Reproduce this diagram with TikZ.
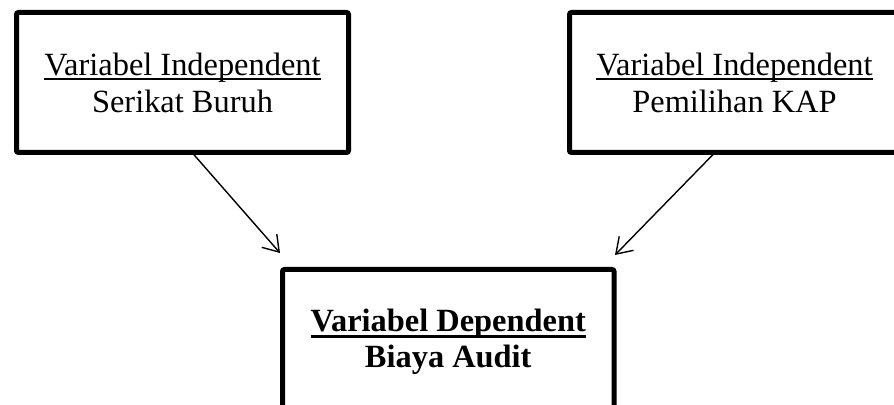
\documentclass[tikz,border=0pt]{standalone}
\usepackage{fontspec}
\setmainfont{Liberation Serif}
\usetikzlibrary{arrows.meta,positioning}
\newcommand{\garisbawah}[3]{\setbox0\hbox{#3}\usebox0\llap{\rule[#1]{\wd0}{#2}}}
\tikzset{kotak/.style={draw,line width=2.5pt,rounded corners=1pt,outer sep=0pt,align=center,minimum height=70pt,font=\fontsize{16.2}{18.5}\selectfont},panah/.style={-{Straight Barb[length=7.5pt,width=10pt]},line width=0.7pt}}

\begin{document}
\begin{tikzpicture}[x=0.5pt,y=-0.5pt]
\path[use as bounding box,clip] (0,0) rectangle (894,405);
\node[kotak,minimum width=166pt] (serikat) at (182.5,82.5) {\garisbawah{-2.5pt}{1.1pt}{Variabel Independent}\\Serikat Buruh};
\node[kotak,minimum width=165pt] (kap) at (734.5,82.5) {\garisbawah{-2.5pt}{1.1pt}{Variabel Independent}\\Pemilihan KAP};
\node[kotak,minimum width=165.75pt,minimum height=72.5pt,font=\fontsize{16.2}{17.8}\selectfont\bfseries] (biaya) at (448.25,342) {\garisbawah{-3.2pt}{1.7pt}{Variabel Dependent}\\Biaya Audit};
\draw[panah] ([xshift=87.75pt]serikat.south west)--([xshift=-1.25pt,yshift=8.25pt]biaya.north west);
\draw[panah] ([xshift=72.75pt]kap.south west)--([xshift=0.5pt,yshift=7.25pt]biaya.north east);
\end{tikzpicture}
\end{document}
